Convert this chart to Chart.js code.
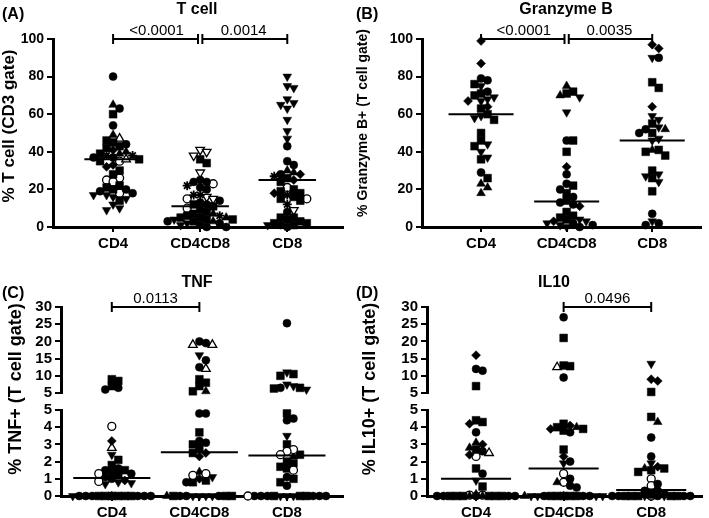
<!DOCTYPE html>
<html><head><meta charset="utf-8">
<script src="https://cdn.jsdelivr.net/npm/chart.js@4/dist/chart.umd.min.js"></script>
<style>
html,body{margin:0;padding:0;background:#fff;}
#wrap{position:relative;width:709px;height:518px;overflow:hidden;background:#fff;}
.p{position:absolute;}
canvas{display:block;}
</style></head><body>
<div id="wrap">
<div class="p" style="left:0;top:0"><canvas id="cA" width="354" height="259"></canvas></div>
<div class="p" style="left:354px;top:0"><canvas id="cB" width="355" height="259"></canvas></div>
<div class="p" style="left:0;top:258px"><canvas id="cC" width="354" height="260"></canvas></div>
<div class="p" style="left:354px;top:258px"><canvas id="cD" width="355" height="260"></canvas></div>
</div>
<script>
// ---------------- DATA ----------------
const categories = ['CD4', 'CD4CD8', 'CD8'];
// shape codes: c filled circle, s square, t triangle up, v triangle down, d diamond,
// x star, o open circle, T open triangle up, V open triangle down

// (A) T cell, % of CD3 gate
const tcellCD4 = [[80,'c'],[65,'t'],[63,'c'],[60,'s'],[54,'c'],[49,'t'],[47,'T'],[46,'s'],[45,'s'],[44,'c'],[43,'s'],[42,'s'],[41,'d'],[40,'t'],[39,'t'],[39,'s'],[38,'x'],[38,'x'],[37,'c'],[37,'c'],[36,'T'],[35,'o'],[36,'s'],[35,'s'],[33,'d'],[32,'d'],[30,'s'],[28,'s'],[25,'o'],[26,'o'],[24,'o'],[22,'s'],[21,'s'],[20,'s'],[20,'c'],[19,'c'],[18,'o'],[18,'c'],[17,'v'],[17,'v'],[16,'v'],[15,'v'],[14,'s'],[12,'v'],[10,'v'],[9,'v']];
const tcellCD4CD8 = [[41,'V'],[40,'V'],[38,'V'],[36,'s'],[34,'s'],[29,'V'],[25,'c'],[24,'c'],[24,'c'],[23,'o'],[22,'x'],[21,'c'],[20,'c'],[17,'x'],[17,'x'],[16,'V'],[15,'V'],[15,'o'],[14,'c'],[13,'c'],[12,'c'],[12,'s'],[11,'s'],[10,'o'],[9,'c'],[8,'s'],[7,'s'],[7,'t'],[6,'s'],[6,'x'],[5,'s'],[5,'s'],[5,'t'],[4,'s'],[4,'v'],[4,'s'],[3,'s'],[3,'t'],[3,'c'],[2,'v'],[2,'c'],[1,'c'],[1,'v'],[0,'c'],[0,'c']];
const tcellCD8 = [[80,'v'],[75,'v'],[74,'v'],[68,'v'],[66,'v'],[65,'v'],[63,'v'],[57,'v'],[51,'v'],[47,'v'],[43,'c'],[35,'c'],[33,'c'],[30,'t'],[29,'t'],[28,'c'],[28,'d'],[27,'x'],[26,'s'],[25,'d'],[24,'s'],[21,'o'],[20,'s'],[19,'s'],[18,'s'],[18,'d'],[17,'x'],[16,'s'],[15,'s'],[15,'o'],[14,'s'],[12,'x'],[9,'V'],[8,'c'],[5,'s'],[5,'s'],[4,'s'],[3,'s'],[2,'s'],[2,'s'],[1,'s'],[1,'c'],[1,'v'],[0,'c']];
const tcellMedians = [36, 11, 25];
const tcellPValues = [[0, 1, '<0.0001'], [1, 2, '0.0014']];

// (B) Granzyme B+
const gzbCD4 = [[99,'d'],[87,'d'],[79,'c'],[78,'c'],[76,'s'],[75,'v'],[72,'c'],[71,'s'],[70,'s'],[69,'v'],[68,'v'],[67,'v'],[67,'d'],[64,'d'],[63,'s'],[60,'s'],[59,'v'],[58,'v'],[57,'s'],[50,'s'],[46,'s'],[44,'v'],[43,'s'],[40,'v'],[37,'v'],[36,'s'],[29,'c'],[26,'s'],[23,'t'],[21,'t'],[18,'t']];
const gzbCD4CD8 = [[75,'t'],[72,'s'],[71,'s'],[70,'t'],[69,'v'],[61,'v'],[46,'c'],[46,'s'],[40,'s'],[32,'d'],[28,'c'],[23,'c'],[22,'s'],[20,'c'],[18,'s'],[16,'c'],[14,'s'],[13,'c'],[12,'c'],[11,'d'],[8,'s'],[6,'s'],[5,'s'],[4,'s'],[4,'v'],[3,'d'],[3,'v'],[2,'c'],[2,'v'],[1,'v'],[1,'c'],[0,'v'],[0,'c']];
const gzbCD8 = [[97,'d'],[95,'d'],[90,'v'],[90,'c'],[77,'s'],[74,'s'],[64,'d'],[59,'v'],[57,'v'],[55,'s'],[53,'v'],[52,'c'],[52,'t'],[50,'s'],[50,'c'],[47,'v'],[46,'v'],[41,'t'],[41,'s'],[40,'s'],[38,'s'],[30,'s'],[28,'v'],[27,'v'],[26,'s'],[24,'v'],[19,'s'],[7,'c'],[3,'v'],[2,'c'],[1,'c']];
const gzbMedians = [60, 13.5, 46];
const gzbPValues = [[0, 1, '<0.0001'], [1, 2, '0.0035']];

// (C) TNF+
const tnfCD4 = [[9,'s'],[8.5,'s'],[7,'s'],[6.5,'c'],[6,'c'],[4.05,'o'],[3.2,'d'],[2.8,'T'],[2.4,'v'],[2.1,'s'],[1.8,'s'],[1.6,'c'],[1.5,'c'],[1.5,'s'],[1.4,'c'],[1.3,'o'],[1.3,'c'],[1.2,'s'],[1.1,'c'],[1.0,'c'],[0.9,'d'],[0.85,'o'],[0.8,'v'],[0.75,'v'],[0.7,'v'],[0,'s'],[0,'s'],[0,'s'],[0,'s'],[0,'s'],[0,'s'],[0,'c'],[0,'c'],[0,'c'],[0,'c'],[0,'c'],[0,'c'],[0,'v'],[0,'v'],[0,'d'],[0,'d']];
const tnfCD4CD8 = [[20,'c'],[19.5,'c'],[19,'T'],[19,'T'],[16,'v'],[14.5,'c'],[12.5,'c'],[12,'T'],[9,'s'],[8,'s'],[7,'s'],[5.5,'t'],[5.5,'s'],[4.8,'c'],[4.8,'c'],[3.7,'s'],[3.2,'c'],[3.1,'c'],[3.0,'s'],[2.8,'s'],[2.5,'d'],[2.5,'s'],[2.3,'d'],[1.4,'t'],[1.3,'o'],[1.2,'o'],[1.1,'v'],[1.0,'d'],[0.9,'s'],[0.8,'s'],[0.8,'c'],[0,'v'],[0,'v'],[0,'v'],[0,'v'],[0,'c'],[0,'c'],[0,'c'],[0,'s'],[0,'s'],[0,'s'],[0,'t']];
const tnfCD8 = [[25.3,'c'],[11,'v'],[10.5,'s'],[10,'s'],[7.5,'v'],[7,'v'],[6.5,'c'],[6.5,'s'],[6.3,'s'],[6,'v'],[4.8,'s'],[4.5,'c'],[4.4,'c'],[3.5,'v'],[3.0,'s'],[2.7,'o'],[2.6,'o'],[2.4,'o'],[2.4,'s'],[2.3,'t'],[2.0,'s'],[1.9,'s'],[1.7,'s'],[1.6,'s'],[1.5,'o'],[1.1,'c'],[1.0,'s'],[0.8,'s'],[0.6,'c'],[0,'v'],[0,'v'],[0,'v'],[0,'s'],[0,'s'],[0,'s'],[0,'c'],[0,'c'],[0,'c'],[0,'c'],[0,'c'],[0,'c'],[0,'o']];
const tnfMedians = [1.05, 2.55, 2.35];
const tnfPValues = [[0, 1, '0.0113']];

// (D) IL10+
const il10CD4 = [[16,'d'],[12,'c'],[11.5,'c'],[7,'s'],[4.4,'s'],[4.3,'s'],[4.2,'d'],[3.7,'c'],[3.1,'t'],[3.0,'d'],[2.8,'t'],[2.7,'s'],[2.6,'c'],[2.5,'T'],[2.4,'d'],[2.3,'o'],[1.6,'s'],[1.3,'c'],[0.9,'v'],[0.55,'s'],[0.1,'t'],[0.05,'o'],[0.05,'o'],[0,'s'],[0,'s'],[0,'s'],[0,'s'],[0,'s'],[0,'s'],[0,'c'],[0,'c'],[0,'c'],[0,'c'],[0,'c'],[0,'t'],[0,'t'],[0,'v'],[0,'v']];
const il10CD4CD8 = [[27,'c'],[21,'s'],[13,'s'],[12.8,'s'],[12.5,'T'],[9.5,'c'],[4.2,'s'],[4.1,'d'],[4,'s'],[4,'t'],[3.9,'d'],[3.9,'s'],[3.8,'s'],[3.7,'c'],[2.7,'s'],[2.3,'d'],[2.0,'c'],[1.9,'v'],[1.3,'o'],[1.0,'c'],[0.8,'o'],[0.8,'t'],[0.6,'c'],[0.5,'c'],[0,'s'],[0,'s'],[0,'s'],[0,'s'],[0,'s'],[0,'c'],[0,'c'],[0,'c'],[0,'v'],[0,'v'],[0,'v'],[0,'v'],[0,'t'],[0,'t']];
const il10CD8 = [[13.5,'v'],[9,'d'],[8.5,'d'],[5.3,'s'],[4.6,'s'],[4.3,'t'],[3.4,'c'],[2.3,'c'],[1.9,'v'],[1.7,'d'],[1.6,'t'],[1.6,'s'],[1.5,'s'],[1.4,'s'],[1.0,'o'],[0.7,'c'],[0.6,'o'],[0.3,'c'],[0.3,'c'],[0.2,'s'],[0.2,'v'],[0,'s'],[0,'s'],[0,'s'],[0,'s'],[0,'s'],[0,'c'],[0,'c'],[0,'c'],[0,'c'],[0,'c'],[0,'v'],[0,'v'],[0,'v'],[0,'o'],[0,'o'],[0,'t']];
const il10Medians = [1.0, 1.6, 0.35];
const il10PValues = [[1, 2, '0.0496']];

const linearTicks = [0, 20, 40, 60, 80, 100];
const brokenLowTicks = [0, 1, 2, 3, 4, 5];
const brokenHighTicks = [5, 10, 15, 20, 25, 30];

// ---------------- RENDERING ----------------
Chart.defaults.font.family = '"Liberation Sans", Arial, sans-serif';
Chart.defaults.color = '#000';

const SHAPES = {
  c: {style: 'circle', fill: true, r: 4},
  s: {style: 'rect', fill: true, r: 5.5},
  t: {style: 'triangle', fill: true, r: 5, rot: 0},
  v: {style: 'triangle', fill: true, r: 5, rot: 180},
  d: {style: 'rectRot', fill: true, r: 4.5},
  x: {style: 'star', fill: true, r: 4.5},
  o: {style: 'circle', fill: false, r: 4},
  T: {style: 'triangle', fill: false, r: 5, rot: 0},
  V: {style: 'triangle', fill: false, r: 5, rot: 180}
};

function swarm(points, cat, ypx, unitPx) {
  const placed = [];
  const order = points.map((p, i) => i).sort((a, b) => points[b][0] - points[a][0]);
  const res = new Array(points.length);
  const step = 6.5, thr = 6.5, maxK = 6;
  for (const i of order) {
    const py = ypx(points[i][0]);
    let best = 0, bestD = -1;
    for (let k = 0; k <= 2 * maxK; k++) {
      const m = k === 0 ? 0 : (k % 2 ? (k + 1) / 2 : -k / 2);
      const px = m * step;
      let dmin = Infinity;
      for (const q of placed) {
        const d = Math.hypot(q.px - px, q.py - py);
        if (d < dmin) dmin = d;
      }
      if (dmin >= thr) { best = px; bestD = dmin; break; }
      if (dmin > bestD) { bestD = dmin; best = px; }
    }
    placed.push({px: best, py});
    res[i] = {x: cat + best / unitPx, y: points[i][0]};
  }
  return res;
}

function buildDatasets(p) {
  const ypx = p.broken
    ? (v => v <= 5 ? v * 17.2 : 103 + (v - 5) * 3.44)
    : (v => v * 1.88);
  const groups = {};
  p.groups.forEach((pts, ci) => {
    const pos = swarm(pts, ci, ypx, p.unitPx);
    pts.forEach((pt, j) => {
      const axis = p.broken ? (pt[0] > 5 ? 'yHigh' : 'yLow') : 'y';
      const key = pt[1] + '|' + axis;
      (groups[key] = groups[key] || []).push(pos[j]);
    });
  });
  const ds = Object.keys(groups).map(key => {
    const [code, axis] = key.split('|');
    const sh = SHAPES[code];
    return {
      type: 'scatter', data: groups[key], yAxisID: axis,
      pointStyle: sh.style, pointRadius: sh.r, pointRotation: sh.rot || 0,
      pointBackgroundColor: sh.fill ? '#000' : '#fff', pointBorderColor: '#000',
      pointBorderWidth: sh.fill ? (code === 'x' ? 1.8 : 0.5) : 1.3,
      pointHoverRadius: sh.r, clip: false, order: 2
    };
  });
  const medAxis = p.broken ? 'yLow' : 'y';
  p.medians.forEach((m, i) => {
    ds.push({type: 'line', showLine: true, data: [{x: i - p.medHalf, y: m}, {x: i + p.medHalf, y: m}],
      yAxisID: medAxis, borderColor: '#000', borderWidth: 2, pointRadius: 0, clip: false, order: 1});
  });
  const brAxis = p.broken ? 'yHigh' : 'y';
  p.pvalues.forEach(([a, b]) => {
    const sharedA = p.pvalues.some(q => q[1] === a);
    const sharedB = p.pvalues.some(q => q[0] === b);
    const xa = a + (sharedA ? 0.025 : 0), xb = b - (sharedB ? 0.025 : 0);
    ds.push({type: 'line', showLine: true, data: [{x: xa, y: p.top}, {x: xb, y: p.top}],
      yAxisID: brAxis, borderColor: '#000', borderWidth: 2,
      pointStyle: 'line', pointRadius: 5, pointRotation: 90, pointBorderWidth: 2,
      pointBorderColor: '#000', clip: false, order: 0});
  });
  return ds;
}

function textPlugin(p) {
  return {
    id: 'txt' + p.letter,
    afterDraw(chart) {
      const ctx = chart.ctx, xs = chart.scales.x;
      const ys = chart.scales[p.broken ? 'yHigh' : 'y'];
      ctx.save();
      ctx.fillStyle = '#000';
      ctx.font = 'bold 16px "Liberation Sans", Arial, sans-serif';
      ctx.textAlign = 'left'; ctx.textBaseline = 'middle';
      ctx.fillText(p.letter, 2, p.letterY);
      ctx.textAlign = 'center';
      ctx.fillText(p.title, p.titleX, p.titleY);
      ctx.font = '15px "Liberation Sans", Arial, sans-serif';
      ctx.textBaseline = 'alphabetic';
      p.pvalues.forEach(([a, b, label]) => {
        const x = (xs.getPixelForValue(a) + xs.getPixelForValue(b)) / 2;
        ctx.fillText(label, x, ys.getPixelForValue(p.top) - 4);
      });
      ctx.translate(p.yTitleX, p.yTitleY);
      ctx.rotate(-Math.PI / 2);
      ctx.font = 'bold ' + p.yTitleSize + 'px "Liberation Sans", Arial, sans-serif';
      ctx.textBaseline = 'middle';
      ctx.fillText(p.yTitle, 0, 0);
      ctx.restore();
    }
  };
}

function tickFormat(list) {
  return scale => { scale.ticks = list.map(v => ({value: v})); };
}

function makeChart(id, p) {
  const H = document.getElementById(id).height;
  const xScale = {
    type: 'linear', min: p.xmin, max: p.xmax,
    afterBuildTicks: tickFormat([0, 1, 2]),
    afterFit: s => { s.height = H - p.bottom; },
    ticks: {callback: v => categories[v], font: {size: 15, weight: 'bold'}, color: '#000', padding: 3, autoSkip: false, maxRotation: 0},
    grid: {drawOnChartArea: false, drawTicks: true, tickLength: 5, color: '#000', lineWidth: 2},
    border: {display: true, color: '#000', width: 3}
  };
  const yCommon = (ticks, extra) => Object.assign({
    type: 'linear', position: 'left',
    afterBuildTicks: tickFormat(ticks),
    afterFit: s => { s.width = p.axisX; },
    ticks: {font: {size: p.tickSize, weight: 'bold'}, color: '#000', padding: 3, autoSkip: false},
    grid: {drawOnChartArea: false, drawTicks: true, tickLength: 6, color: '#000', lineWidth: 2},
    border: {display: true, color: '#000', width: 3}
  }, extra);
  let scales;
  if (p.broken) {
    scales = {
      x: xScale,
      yLow: yCommon(brokenLowTicks, {min: 0, max: 5, stack: 'v', stackWeight: 86}),
      yGap: {type: 'linear', position: 'left', stack: 'v', stackWeight: 17, min: 0, max: 1, display: true,
        afterFit: s => { s.width = p.axisX; },
        ticks: {display: false}, grid: {display: false}, border: {display: false}},
      yHigh: yCommon(brokenHighTicks, {min: 5, max: 30, stack: 'v', stackWeight: 86})
    };
  } else {
    scales = {x: xScale, y: yCommon(linearTicks, {min: 0, max: 100})};
  }
  return new Chart(document.getElementById(id), {
    type: 'scatter',
    data: {datasets: buildDatasets(p)},
    options: {
      responsive: false, animation: false, devicePixelRatio: 1,
      layout: {padding: {left: 0, top: p.topPad, right: p.right, bottom: 0}},
      plugins: {legend: {display: false}, tooltip: {enabled: false}, title: {display: false}},
      events: [],
      scales
    },
    plugins: [textPlugin(p)]
  });
}

makeChart('cA', {
  letter: '(A)', title: 'T cell', yTitle: '% T cell (CD3 gate)',
  groups: [tcellCD4, tcellCD4CD8, tcellCD8], medians: tcellMedians, pvalues: tcellPValues,
  broken: false, top: 100, xmin: -0.69, xmax: 2.64, unitPx: 87, medHalf: 0.33,
  axisX: 53, topPad: 39, right: 11, bottom: 227, tickSize: 14,
  letterY: 15, titleX: 197, titleY: 10, yTitleX: 9, yTitleY: 126, yTitleSize: 17
});
makeChart('cB', {
  letter: '(B)', title: 'Granzyme B', yTitle: '% Granzyme B+ (T cell gate)',
  groups: [gzbCD4, gzbCD4CD8, gzbCD8], medians: gzbMedians, pvalues: gzbPValues,
  broken: false, top: 100, xmin: -0.69, xmax: 2.57, unitPx: 85.5, medHalf: 0.38,
  axisX: 68, topPad: 39, right: 8, bottom: 227, tickSize: 14,
  letterY: 15, titleX: 212, titleY: 10, yTitleX: 9, yTitleY: 123, yTitleSize: 14
});
makeChart('cC', {
  letter: '(C)', title: 'TNF', yTitle: '% TNF+ (T cell gate)',
  groups: [tnfCD4, tnfCD4CD8, tnfCD8], medians: tnfMedians, pvalues: tnfPValues,
  broken: true, top: 30, xmin: -0.58, xmax: 2.64, unitPx: 87.5, medHalf: 0.44,
  axisX: 61, topPad: 49, right: 11, bottom: 238, tickSize: 15,
  letterY: 36, titleX: 197, titleY: 25, yTitleX: 16, yTitleY: 131, yTitleSize: 18
});
makeChart('cD', {
  letter: '(D)', title: 'IL10', yTitle: '% IL10+ (T cell gate)',
  groups: [il10CD4, il10CD4CD8, il10CD8], medians: il10Medians, pvalues: il10PValues,
  broken: true, top: 30, xmin: -0.56, xmax: 2.58, unitPx: 87.5, medHalf: 0.4,
  axisX: 73, topPad: 49, right: 7, bottom: 238, tickSize: 15,
  letterY: 36, titleX: 200, titleY: 25, yTitleX: 16, yTitleY: 131, yTitleSize: 18
});
</script>
</body></html>
